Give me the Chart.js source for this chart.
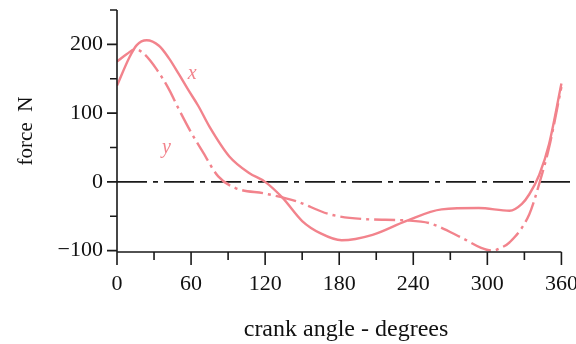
<!DOCTYPE html>
<html>
<head>
<meta charset="utf-8">
<script src="https://cdn.jsdelivr.net/npm/chart.js@4/dist/chart.umd.min.js"></script>
<style>
html,body{margin:0;padding:0;background:#fff;}
#wrap{width:576px;height:344px;}
</style>
</head>
<body>
<div id="wrap"><canvas id="c" width="576" height="344"></canvas></div>
<script>
// crank angle (degrees) and force (N)
const xAngles = [0, 10, 16, 24, 34, 42, 50, 58, 66, 75, 91, 107, 120, 134, 150, 165, 182, 207, 234, 263, 293, 318, 328, 334, 342, 350, 360];
const xForce  = [140, 181, 199, 206, 198, 180, 157, 133, 110, 80, 37, 13, 0, -23, -57, -75, -85, -77, -57, -40, -38, -42, -32, -18, 10, 55, 143];
const yAngles = [0, 8, 15, 22, 32, 42, 50, 60, 69, 82, 96, 120, 145, 172, 199, 234, 253, 280, 295, 304, 312, 318, 334, 342, 350, 360];
const yForce  = [175, 186, 193, 186, 164, 135, 106, 72, 45, 8, -9, -17, -28, -47, -54, -56, -60, -82, -96, -100, -95, -88, -47, -3, 50, 138];
const zeroLine = [0, 0];
const zeroAngles = [0, 371];
const xTickLabels = [0, 60, 120, 180, 240, 300, 360];
const yTickLabels = [-100, 0, 100, 200];
const curveLabels = [{text: 'x', angle: 61, force: 158}, {text: 'y', angle: 40, force: 49}];

const pink = '#f2838c';
const serif = '"Liberation Serif", "DejaVu Serif", serif';

const pts = (a, v) => a.map((x, i) => ({x: x, y: v[i]}));
const noPad = s => { s.paddingLeft = 0; s.paddingRight = 0; s.paddingTop = 0; s.paddingBottom = 0; };

const axesPlugin = {
  id: 'axesPlugin',
  afterDatasetsDraw(chart) {
    const ctx = chart.ctx;
    const xs = chart.scales.x, ys = chart.scales.y;
    const x0 = xs.getPixelForValue(0), x360 = xs.getPixelForValue(360);
    const yb = ys.getPixelForValue(ys.min), yt = ys.getPixelForValue(ys.max);
    ctx.save();
    ctx.strokeStyle = '#1a1a1a';
    ctx.lineWidth = 1.6;
    ctx.beginPath();
    ctx.moveTo(x0, yt); ctx.lineTo(x0, yb);
    ctx.moveTo(x0, yb); ctx.lineTo(x360, yb);
    for (let v = -100; v <= 250; v += 50) {
      const p = ys.getPixelForValue(v);
      const len = (v % 100 === 0) ? 10 : 7;
      ctx.moveTo(x0, p); ctx.lineTo(x0 - len, p);
    }
    for (let a = 0; a <= 360; a += 30) {
      const p = xs.getPixelForValue(a);
      const len = (a % 60 === 0) ? 13 : 8;
      ctx.moveTo(p, yb); ctx.lineTo(p, yb + len);
    }
    ctx.stroke();
    ctx.fillStyle = pink;
    ctx.font = 'italic 20px ' + serif;
    ctx.textAlign = 'center';
    ctx.textBaseline = 'middle';
    curveLabels.forEach(l => {
      ctx.fillText(l.text, xs.getPixelForValue(l.angle), ys.getPixelForValue(l.force));
    });
    ctx.restore();
  }
};

new Chart(document.getElementById('c'), {
  type: 'line',
  data: {
    datasets: [
      {label: 'x', data: pts(xAngles, xForce), borderColor: pink, borderWidth: 2.4, pointRadius: 0, cubicInterpolationMode: 'monotone', fill: false},
      {label: 'y', data: pts(yAngles, yForce), borderColor: pink, borderWidth: 2.4, borderDash: [21, 5, 3, 5], pointRadius: 0, cubicInterpolationMode: 'monotone', fill: false},
      {label: 'zero', data: pts(zeroAngles, zeroLine), borderColor: '#1a1a1a', borderWidth: 1.6, borderDash: [30, 6, 5, 6], pointRadius: 0, fill: false}
    ]
  },
  options: {
    responsive: false,
    animation: false,
    events: [],
    layout: {padding: {top: 10, right: 1, left: 0, bottom: 0}},
    plugins: {legend: {display: false}, tooltip: {enabled: false}},
    scales: {
      x: {
        type: 'linear', min: 0, max: 371,
        afterBuildTicks: s => { s.ticks = xTickLabels.map(v => ({value: v})); },
        afterFit: s => { s.height = 92; noPad(s); },
        grid: {display: false, drawTicks: false},
        border: {display: false},
        ticks: {color: '#111', padding: 19, font: {family: serif, size: 22}, maxRotation: 0, autoSkip: false},
        title: {display: true, text: 'crank angle - degrees', color: '#111', font: {family: serif, size: 24}, padding: {top: 0, bottom: 0}}
      },
      y: {
        type: 'linear', min: -102, max: 250,
        afterBuildTicks: s => { s.ticks = yTickLabels.map(v => ({value: v})); },
        afterFit: s => { s.width = 117; noPad(s); },
        grid: {display: false, drawTicks: false},
        border: {display: false},
        ticks: {color: '#111', padding: 14, font: {family: serif, size: 22},
          callback: v => (v < 0 ? '\u2212' + Math.abs(v) : String(v))},
        title: {display: true, text: 'force  N', color: '#111', font: {family: serif, size: 21}, padding: {top: 14, bottom: 0}}
      }
    }
  },
  plugins: [axesPlugin]
});
</script>
</body>
</html>
